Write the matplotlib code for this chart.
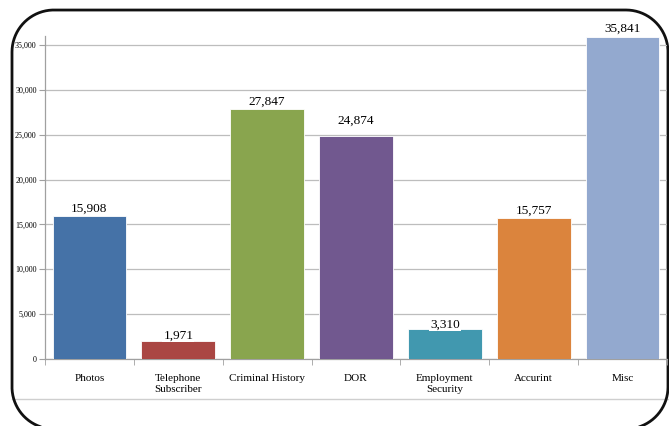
import numpy as np
import matplotlib.pyplot as plt
from matplotlib.ticker import FuncFormatter

categories = ['Photos', 'Telephone\nSubscriber', 'Criminal History', 'DOR',
              'Employment\nSecurity', 'Accurint', 'Misc']
values = [15908, 1971, 27847, 24874, 3310, 15757, 35841]
colors = ['#4572A7', '#AA4643', '#89A54E', '#71588F', '#4198AF', '#DB843D', '#93A9CF']
yticks = [0, 5000, 10000, 15000, 20000, 25000, 30000, 35000]

plt.rcParams['font.family'] = ['Liberation Serif', 'DejaVu Serif']

W, H = 669, 426
fig = plt.figure(figsize=(W / 100, H / 100), dpi=100)

# plot area in pixels: left 45, right 667, top 36, bottom 359
ax = fig.add_axes([45 / W, 1 - 359 / H, (667 - 45) / W, (359 - 36) / H])
ax.set_facecolor('none')
x = range(len(values))
ax.bar(x, values, width=0.83, color=colors, edgecolor='white', linewidth=0.6, zorder=3)

# label gap above bar top (pixels), Excel nudges the DOR one higher
gaps = [7.5, 6, 7.5, 15, 5, 7, 9]
for xi, v, g in zip(x, values, gaps):
    ax.annotate(f'{v:,}', (xi, v), xytext=(0, g), textcoords='offset pixels',
                ha='center', va='center', fontsize=9.5, zorder=4,
                bbox=dict(facecolor='white', edgecolor='none', pad=0.6))

ax.set_xlim(-0.5, len(values) - 0.5)
ax.set_ylim(0, 36000)
ax.set_yticks(yticks)
ax.yaxis.set_major_formatter(FuncFormatter(lambda v, p: f'{int(v):,}'))
ax.tick_params(axis='y', labelsize=5.8, length=4, color='#A0A0A0', pad=2)
ax.grid(axis='y', color='#BDBDBD', linewidth=0.9, zorder=0)

ax.set_xticks(list(x))
ax.set_xticklabels(categories, fontsize=8, linespacing=1.3)
ax.tick_params(axis='x', length=0, pad=11)
ax.set_xticks([i + 0.5 for i in range(-1, len(values))], minor=True)
ax.tick_params(axis='x', which='minor', length=4, color='#A0A0A0')

for s in ['top', 'right']:
    ax.spines[s].set_visible(False)
for s in ['left', 'bottom']:
    ax.spines[s].set_color('#A0A0A0')
    ax.spines[s].set_linewidth(0.9)

# frame overlay in pixel coords (y measured from bottom)
bg = fig.add_axes([0, 0, 1, 1], zorder=-1)
bg.set_xlim(0, W)
bg.set_ylim(0, H)
bg.axis('off')
bg.plot([12, W], [H - 399, H - 399], color='#CFCFCF', linewidth=1)

# rounded frame, bottom edge runs off the picture so leave it open
r = 42
left, right, top, bottom = 12, 668, H - 10, -3
corners = [(right - r, bottom + r, -90, 0), (right - r, top - r, 0, 90),
           (left + r, top - r, 90, 180), (left + r, bottom + r, 180, 270)]
fx, fy = [], []
for cx, cy, a0, a1 in corners:
    t = np.radians(np.linspace(a0, a1, 40))
    fx.extend(cx + r * np.cos(t))
    fy.extend(cy + r * np.sin(t))
bg.plot(fx, fy, color='#111111', linewidth=2, clip_on=False, solid_capstyle='butt')

fig.savefig('out.png', dpi=100)
